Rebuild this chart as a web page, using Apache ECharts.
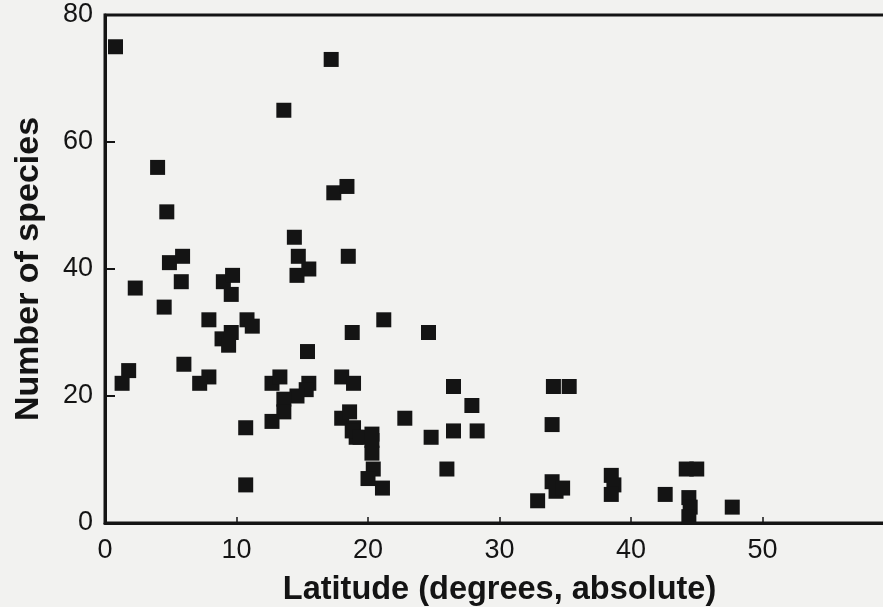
<!DOCTYPE html>
<html lang="en">
<head>
  <meta charset="UTF-8">
  <title>species-latitude</title>
  <style type="text/css">
    html, body { margin: 0; padding: 0; background: #f2f2f0; }
    #chart { width: 883px; height: 607px; }
  </style>
</head>
<body>
  <div id="chart"></div>
  <script src="https://cdn.jsdelivr.net/npm/echarts@6/dist/echarts.min.js"></script>
  <script type="text/javascript">

    // latitude (degrees, absolute) and number of species
    var latitude = [
      0.8, 17.2, 13.6, 4.0, 4.7, 17.4, 18.4, 14.4, 14.7, 15.5,
      14.6, 18.5, 4.9, 5.9, 5.8, 2.3, 9.0, 9.7, 9.6, 4.5,
      7.9, 10.8, 11.2, 8.9, 9.6, 9.4, 15.4, 18.8, 6.0, 7.9,
      7.2, 1.8, 1.3, 12.7, 13.3, 15.5, 15.3, 14.6, 13.6, 13.6,
      12.7, 18.0, 18.9, 18.0, 18.6, 18.9, 19.1, 10.7, 10.7, 21.2,
      24.6, 18.8, 19.4, 20.3, 20.3, 20.3, 20.4, 20.0, 21.1, 22.8,
      24.8, 26.5, 27.9, 26.5, 28.3, 26.0, 34.1, 35.3, 34.0, 34.0,
      34.3, 34.8, 32.9, 38.5, 38.7, 38.5, 42.6, 44.2, 45.0, 44.4,
      44.5, 44.4, 47.7
    ]
    var species = [
      75, 73, 65, 56, 49, 52, 53, 45, 42, 40,
      39, 42, 41, 42, 38, 37, 38, 39, 36, 34,
      32, 32, 31, 29, 30, 28, 27, 30, 25, 23,
      22, 24, 22, 22, 23, 22, 21, 20, 19.5, 17.5,
      16, 23, 22, 16.5, 17.5, 15, 13.5, 15, 6, 32,
      30, 14.5, 13.5, 14, 13, 11, 8.5, 7, 5.5, 16.5,
      13.5, 21.5, 18.5, 14.5, 14.5, 8.5, 21.5, 21.5, 15.5, 6.5,
      5, 5.5, 3.5, 7.5, 6, 4.5, 4.5, 8.5, 8.5, 4,
      2.5, 1, 2.5
    ]

    var points = latitude.map(function (x, i) {
      return [x, species[i]]
    })

    var ink = '#141414'
    var font = '"Liberation Sans", Arial, Helvetica, sans-serif'

    var myChart = echarts.init(document.getElementById('chart'))
    var option = {
      backgroundColor: '#f2f2f0',
      animation: false,
      // the plot frame runs past the right edge of the picture
      grid: {
        left: 105,
        top: 15,
        width: 789,
        bottom: 84,
        outerBoundsMode: 'none',
        containLabel: false,
        show: true,
        borderColor: ink,
        borderWidth: 3,
        backgroundColor: 'transparent'
      },
      xAxis: {
        type: 'value',
        min: 0,
        max: 60,
        interval: 10,
        name: 'Latitude (degrees, absolute)',
        nameLocation: 'middle',
        nameGap: 51,
        nameTextStyle: { fontFamily: font, fontSize: 32.5, fontWeight: 'bold', color: ink },
        axisLine: { show: true, lineStyle: { color: ink, width: 3 } },
        axisTick: { show: true, inside: true, length: 6, lineStyle: { color: ink, width: 1.5 } },
        axisLabel: { showMaxLabel: false, margin: 14, fontFamily: font, fontSize: 27, color: ink },
        splitLine: { show: false }
      },
      yAxis: {
        type: 'value',
        min: 0,
        max: 80,
        interval: 20,
        name: 'Number of species',
        nameLocation: 'middle',
        nameGap: 59,
        nameTextStyle: { fontFamily: font, fontSize: 34, fontWeight: 'bold', color: ink },
        axisLine: { show: true, lineStyle: { color: ink, width: 3 } },
        axisTick: { show: true, inside: true, length: 10, lineStyle: { color: ink, width: 2 } },
        axisLabel: { margin: 12, fontFamily: font, fontSize: 27, color: ink },
        splitLine: { show: false }
      },
      series: [
        {
          type: 'scatter',
          symbol: 'rect',
          symbolSize: 15,
          itemStyle: { color: ink, opacity: 1 },
          data: points
        }
      ]
    }
    myChart.setOption(option)
  </script>
</body>
</html>
